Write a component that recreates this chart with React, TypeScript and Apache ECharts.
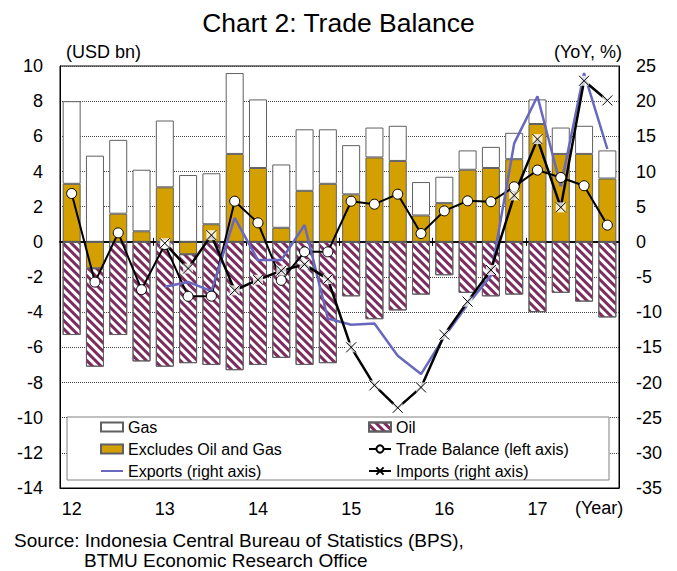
import React, { useEffect, useRef } from 'react';
import * as echarts from 'echarts';

const quarters = [
  '12Q1', '12Q2', '12Q3', '12Q4',
  '13Q1', '13Q2', '13Q3', '13Q4',
  '14Q1', '14Q2', '14Q3', '14Q4',
  '15Q1', '15Q2', '15Q3', '15Q4',
  '16Q1', '16Q2', '16Q3', '16Q4',
  '17Q1', '17Q2', '17Q3', '17Q4',
];
const yearLabels = ['12', '13', '14', '15', '16', '17'];

// USD bn (left axis)
const gas = [4.7, 4.9, 4.2, 3.5, 3.8, 3.8, 2.9, 4.6, 3.9, 3.6, 3.5, 3.1, 2.8, 1.7, 2.0, 1.9, 1.5, 1.1, 1.2, 1.5, 1.4, 1.5, 1.6, 1.6];
const oil = [-5.3, -5.6, -5.3, -6.8, -7.1, -6.2, -7.0, -7.3, -7.0, -6.6, -7.0, -6.9, -3.1, -4.4, -3.9, -3.0, -1.9, -2.9, -3.1, -3.0, -4.0, -2.9, -3.4, -4.3];
const excludesOilGas = [3.3, -1.5, 1.6, 0.6, 3.1, -0.7, 1.0, 5.0, 4.2, 0.8, 2.9, 3.3, 2.7, 4.8, 4.6, 1.5, 2.2, 4.1, 4.2, 4.7, 6.7, 5.0, 5.0, 3.6];
const tradeBalance = [2.75, -2.29, 0.51, -2.72, -0.15, -3.1, -3.09, 2.31, 1.08, -2.19, -0.57, -0.57, 2.31, 2.14, 2.71, 0.47, 1.76, 2.33, 2.28, 3.13, 4.08, 3.66, 3.19, 0.95];

// YoY % (right axis)
const exportsYoY = [null, null, null, null, -6.4, -5.7, -7.0, 3.4, -2.6, -2.6, 2.4, -10.9, -11.8, -11.6, -16.2, -18.8, -13.5, -8.9, -4.8, 14.0, 20.7, 7.9, 24.0, 13.2];
const importsYoY = [null, null, null, null, -0.2, -3.8, 0.95, -6.9, -5.4, -4.1, -3.2, -5.3, -15.0, -20.4, -23.6, -20.7, -13.2, -8.5, -4.0, 6.6, 14.6, 4.9, 22.9, 20.1];

const FONT = '"Liberation Sans", Arial, sans-serif';
const GOLD = '#D4A000';
const MAROON = '#7B2D5F';
const BLUE = '#6868BE';
const BORDER = '#606060';

export default function App() {
  const ref = useRef<HTMLDivElement>(null);

  useEffect(() => {
    document.body.style.margin = '0';
    const chart = echarts.init(ref.current!, null, { renderer: 'svg' });

    const catAxisBase = {
      type: 'category' as const,
      data: quarters,
      gridIndex: 0,
      boundaryGap: true,
      splitLine: { show: false },
    };

    const legendBase = {
      orient: 'vertical' as const,
      top: 419,
      padding: 0,
      itemWidth: 22,
      itemHeight: 9,
      itemGap: 6,
      z: 10,
      selectedMode: false,
      textStyle: { fontFamily: FONT, fontSize: 16, color: '#000', lineHeight: 16 },
    };

    chart.setOption({
      animation: false,
      backgroundColor: '#fff',
      textStyle: { fontFamily: FONT, color: '#000' },
      title: {
        text: 'Chart 2: Trade Balance',
        left: 'center',
        top: 4,
        textStyle: { fontFamily: FONT, fontSize: 26.5, fontWeight: 'normal', color: '#000' },
      },
      grid: {
        left: 60,
        right: 58,
        top: 66,
        bottom: 83,
        show: true,
        borderColor: '#000',
        borderWidth: 1,
        backgroundColor: 'transparent',
      },
      xAxis: [
        {
          ...catAxisBase,
          position: 'bottom',
          axisLine: { show: true, onZero: false, lineStyle: { color: '#000', width: 1 } },
          axisTick: { show: false },
          axisLabel: {
            interval: 3,
            margin: 12,
            fontSize: 18,
            fontFamily: FONT,
            color: '#000',
            formatter: (_v: string, i: number) => (i % 4 === 0 ? yearLabels[i / 4] : ''),
          },
        },
        {
          ...catAxisBase,
          position: 'bottom',
          axisLine: { show: true, onZero: true, onZeroAxisIndex: 0, lineStyle: { color: '#000', width: 1.5 } },
          axisTick: { show: true, interval: 3, inside: false, length: 4, lineStyle: { color: '#000', width: 1 } },
          axisLabel: { show: false },
        },
        {
          ...catAxisBase,
          position: 'bottom',
          axisLine: { show: true, onZero: true, onZeroAxisIndex: 0, lineStyle: { color: '#000', width: 1.5 } },
          axisTick: { show: true, interval: 3, inside: true, length: 4, lineStyle: { color: '#000', width: 1 } },
          axisLabel: { show: false },
        },
      ],
      yAxis: [
        {
          type: 'value',
          min: -14,
          max: 10,
          interval: 2,
          position: 'left',
          axisLine: { show: true, lineStyle: { color: '#000' } },
          axisTick: { show: false },
          axisLabel: { fontSize: 18, fontFamily: FONT, color: '#000', margin: 17 },
          splitLine: { show: true, lineStyle: { color: '#444', type: 'dotted', width: 1 } },
        },
        {
          type: 'value',
          min: -35,
          max: 25,
          interval: 5,
          position: 'right',
          axisLine: { show: true, lineStyle: { color: '#000' } },
          axisTick: { show: false },
          axisLabel: { fontSize: 18, fontFamily: FONT, color: '#000', margin: 17 },
          splitLine: { show: false },
        },
      ],
      legend: [
        {
          ...legendBase,
          left: 100,
          data: [
            { name: 'Gas', icon: 'rect' },
            { name: 'Excludes Oil and Gas', icon: 'rect' },
            { name: 'Exports (right axis)', itemStyle: { opacity: 0 } },
          ],
        },
        {
          ...legendBase,
          left: 368,
          data: [
            { name: 'Oil', icon: 'rect' },
            { name: 'Trade Balance (left axis)' },
            { name: 'Imports (right axis)' },
          ],
        },
      ],
      graphic: [
        {
          type: 'rect',
          z: 6,
          shape: { x: 67, y: 417, width: 542, height: 63 },
          style: { fill: '#fff', stroke: '#808080', lineWidth: 1 },
        },
        {
          type: 'text',
          z: 10,
          x: 66,
          y: 52,
          style: { text: '(USD bn)', font: `18px ${FONT}`, fill: '#000', textVerticalAlign: 'middle', textAlign: 'left' },
        },
        {
          type: 'text',
          z: 10,
          x: 622,
          y: 52,
          style: { text: '(YoY, %)', font: `18px ${FONT}`, fill: '#000', textVerticalAlign: 'middle', textAlign: 'right' },
        },
        {
          type: 'text',
          z: 10,
          x: 575,
          y: 508,
          style: { text: '(Year)', font: `18px ${FONT}`, fill: '#000', textVerticalAlign: 'middle', textAlign: 'left' },
        },
        {
          type: 'text',
          z: 10,
          x: 14,
          y: 540,
          style: { text: 'Source: Indonesia Central Bureau of Statistics (BPS),', font: `19px ${FONT}`, fill: '#000', textVerticalAlign: 'middle', textAlign: 'left' },
        },
        {
          type: 'text',
          z: 10,
          x: 84,
          y: 560,
          style: { text: 'BTMU Economic Research Office', font: `19px ${FONT}`, fill: '#000', textVerticalAlign: 'middle', textAlign: 'left' },
        },
      ],
      series: [
        {
          name: 'Excludes Oil and Gas',
          type: 'bar',
          stack: 'total',
          barWidth: 18,
          data: excludesOilGas,
          itemStyle: { color: GOLD, borderColor: BORDER, borderWidth: 1 },
        },
        {
          name: 'Gas',
          type: 'bar',
          stack: 'total',
          barWidth: 18,
          data: gas,
          itemStyle: { color: '#fff', borderColor: BORDER, borderWidth: 1 },
        },
        {
          name: 'Oil',
          type: 'bar',
          stack: 'total',
          barWidth: 18,
          data: oil,
          itemStyle: {
            color: '#fff',
            borderColor: BORDER,
            borderWidth: 1,
            decal: {
              symbol: 'rect',
              symbolSize: 1,
              color: MAROON,
              dashArrayX: [1, 0],
              dashArrayY: [2.2, 2.8],
              rotation: Math.PI / 4,
            },
          },
        },
        {
          name: 'Trade Balance (left axis)',
          type: 'line',
          yAxisIndex: 0,
          data: tradeBalance,
          symbol: 'circle',
          symbolSize: 10,
          lineStyle: { color: '#000', width: 2 },
          itemStyle: { color: '#fff', borderColor: '#000', borderWidth: 1 },
          z: 3,
        },
        {
          name: 'imports-marker-bg',
          type: 'scatter',
          yAxisIndex: 1,
          data: importsYoY,
          symbol: 'rect',
          symbolSize: 10,
          itemStyle: { color: '#fff' },
          silent: true,
          z: 3,
        },
        {
          name: 'Exports (right axis)',
          type: 'line',
          yAxisIndex: 1,
          data: exportsYoY,
          symbol: 'none',
          lineStyle: { color: BLUE, width: 2.5 },
          itemStyle: { color: BLUE },
          z: 3,
        },
        {
          name: 'Imports (right axis)',
          type: 'line',
          yAxisIndex: 1,
          data: importsYoY,
          symbol: 'path://M0,0L10,10M10,0L0,10',
          symbolSize: 10,
          lineStyle: { color: '#000', width: 2.5 },
          itemStyle: { color: '#fff', borderColor: '#000', borderWidth: 1 },
          z: 3,
        },
      ],
    });

    return () => {
      chart.dispose();
    };
  }, []);

  return <div ref={ref} style={{ width: 677, height: 571 }} />;
}
